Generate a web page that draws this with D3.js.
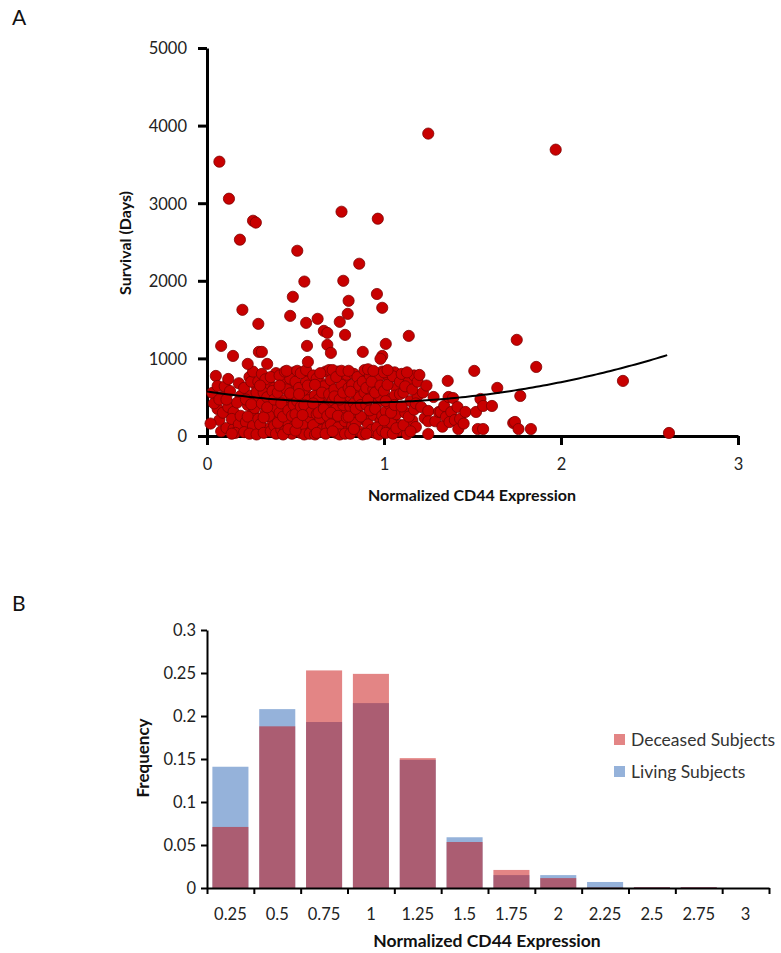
<!DOCTYPE html>
<html>
<head>
<meta charset="utf-8">
<script src="https://cdn.jsdelivr.net/npm/d3@7"></script>
<style>
  body { margin: 0; background: #fff; }
  svg { font-family: Lato, "Open Sans", sans-serif; }
  .tick text { fill: #222; }
</style>
</head>
<body>
<div class="chart"></div>
<script>
// Panel A: [normalized CD44 expression, survival days]
const survivalPoints = [
  // x 0.0 - 0.2
  [0.03,555],[0.05,774],[0.06,645],[0.085,503],[0.06,348],[0.07,206],[0.04,420],[0.09,300],[0.02,160],[0.08,60],[0.1,640],[0.07,470],
  [0.12,735],[0.11,103],[0.15,90],[0.12,374],[0.15,310],[0.19,516],[0.14,220],[0.17,430],[0.13,580],[0.18,150],[0.16,40],[0.19,260],[0.11,470],[0.18,680],[0.14,30],
  // x 0.2 - 0.4
  [0.21,620],[0.23,400],[0.22,180],[0.24,760],[0.25,520],[0.26,300],[0.27,80],[0.28,640],[0.29,450],[0.21,50],[0.23,250],[0.25,700],[0.26,130],[0.27,360],[0.28,560],[0.29,220],[0.22,470],[0.24,30],[0.26,830],[0.28,20],[0.29,700],[0.25,410],
  [0.31,800],[0.32,560],[0.33,300],[0.34,90],[0.35,680],[0.36,440],[0.37,200],[0.38,620],[0.39,350],[0.30,150],[0.31,420],[0.32,40],[0.33,730],[0.34,500],[0.35,260],[0.36,60],[0.37,580],[0.38,130],[0.39,810],[0.30,650],[0.32,240],[0.34,370],[0.36,760],[0.38,470],[0.39,30],
  // x 0.4 - 0.6
  [0.40,560],[0.41,300],[0.42,80],[0.43,720],[0.44,460],[0.45,190],[0.46,640],[0.47,370],[0.48,30],[0.49,820],[0.40,170],[0.41,780],[0.42,420],[0.43,250],[0.44,60],[0.45,600],[0.46,330],[0.47,740],[0.48,500],[0.49,120],[0.41,650],[0.43,20],[0.44,830],[0.46,90],[0.47,550],[0.48,260],[0.49,400],[0.45,840],
  [0.50,700],[0.51,450],[0.52,210],[0.53,40],[0.54,820],[0.55,590],[0.56,330],[0.57,100],[0.58,760],[0.59,500],[0.50,280],[0.51,840],[0.52,620],[0.53,380],[0.54,150],[0.55,20],[0.56,700],[0.57,460],[0.58,240],[0.59,60],[0.50,70],[0.51,170],[0.52,540],[0.53,810],[0.55,400],[0.56,850],[0.57,650],[0.58,30],[0.59,310],[0.54,270],
  // x 0.6 - 0.8
  [0.60,780],[0.61,520],[0.62,280],[0.63,50],[0.64,690],[0.65,430],[0.66,180],[0.67,830],[0.68,600],[0.69,360],[0.60,140],[0.61,20],[0.62,740],[0.63,470],[0.64,230],[0.65,80],[0.66,640],[0.67,390],[0.68,110],[0.69,850],[0.60,420],[0.61,660],[0.62,40],[0.63,300],[0.64,810],[0.65,560],[0.66,350],[0.67,30],[0.68,260],[0.69,540],
  [0.70,720],[0.71,460],[0.72,200],[0.73,40],[0.74,830],[0.75,580],[0.76,320],[0.77,90],[0.78,700],[0.79,440],[0.70,150],[0.71,850],[0.72,600],[0.73,350],[0.74,110],[0.75,20],[0.76,660],[0.77,400],[0.78,190],[0.79,790],[0.70,300],[0.71,60],[0.72,510],[0.73,760],[0.74,260],[0.75,470],[0.76,840],[0.77,560],[0.78,30],[0.79,240],
  // x 0.8 - 1.0
  [0.80,620],[0.81,380],[0.82,130],[0.83,800],[0.84,540],[0.85,290],[0.86,60],[0.87,720],[0.88,460],[0.89,210],[0.80,840],[0.81,30],[0.82,660],[0.83,420],[0.84,170],[0.85,760],[0.86,500],[0.87,250],[0.88,20],[0.89,850],[0.80,250],[0.81,570],[0.83,90],[0.84,350],[0.86,650],[0.87,400],[0.88,700],[0.89,560],
  [0.90,400],[0.91,150],[0.92,780],[0.93,520],[0.94,270],[0.95,40],[0.96,690],[0.97,440],[0.98,190],[0.99,830],[0.90,620],[0.91,860],[0.92,330],[0.93,80],[0.94,600],[0.95,350],[0.96,110],[0.97,760],[0.98,500],[0.99,260],[0.90,30],[0.91,470],[0.93,700],[0.94,840],[0.95,560],[0.97,20],[0.98,650],[0.99,70],
  // x 1.0 - 1.2
  [1.00,580],[1.01,320],[1.02,90],[1.03,740],[1.04,480],[1.05,230],[1.06,820],[1.07,620],[1.08,370],[1.09,140],[1.00,820],[1.01,40],[1.02,660],[1.03,410],[1.04,170],[1.05,770],[1.06,520],[1.07,280],[1.08,65],[1.09,700],[1.00,200],[1.01,450],[1.02,850],[1.04,300],[1.05,30],[1.06,400],[1.07,100],[1.09,540],
  [1.10,800],[1.11,560],[1.12,300],[1.13,26],[1.14,700],[1.15,450],[1.16,200],[1.17,780],[1.18,116],[1.19,520],[1.10,380],[1.11,140],[1.12,640],[1.13,820],[1.14,250],[1.15,60],[1.16,600],[1.17,340],[1.19,700],[1.18,420],
  // x 1.2 and beyond
  [1.20,787],[1.21,374],[1.22,560],[1.23,230],[1.25,323],[1.25,190],[1.25,26],[1.28,503],[1.29,190],[1.24,650],
  [1.31,310],[1.32,310],[1.34,387],[1.35,245],[1.365,503],[1.38,310],[1.39,490],[1.36,710],[1.33,120],[1.37,180],
  [1.40,206],[1.415,374],[1.42,90],[1.43,220],[1.46,310],[1.45,160],
  [1.51,839],[1.52,310],[1.53,90],[1.545,477],[1.56,387],[1.56,90],[1.61,387],[1.64,620],
  [1.73,168],[1.74,181],[1.75,1239],[1.76,90],[1.77,516],[1.83,90],[1.86,890],[1.97,3690],[2.35,710],[2.61,39],
  // long survivors
  [0.07,3535],[0.124,3058],[0.26,2774],[0.276,2750],[0.186,2530],[0.51,2387],[0.76,2890],[0.965,2800],[1.25,3897],[0.86,2220],
  [0.55,1990],[0.77,2000],[0.96,1830],[0.485,1794],[0.80,1742],[0.2,1626],[0.99,1652],[0.795,1574],[0.47,1548],[0.29,1445],
  [0.56,1458],[0.625,1510],[0.75,1471],[0.66,1355],[0.68,1329],[0.78,1303],[1.14,1290],[0.08,1161],[0.565,1161],[0.68,1174],
  [1.01,1187],[0.147,1032],[0.293,1084],[0.31,1084],[0.70,1071],[0.88,1084],[0.99,1032],[0.98,994],[0.57,955],[0.23,929],[0.34,929]
];
// quadratic trendline: c0 + c1*x + c2*x^2, drawn over the fitted range
const trendCoef = [574, -340, 200];
const trendRange = [0, 2.61];
const xTicksA = [0, 1, 2, 3];
const yTicksA = [0, 1000, 2000, 3000, 4000, 5000];

// Panel B: histogram
const bins = ["0.25","0.5","0.75","1","1.25","1.5","1.75","2","2.25","2.5","2.75","3"];
const deceased = [0.071, 0.188, 0.253, 0.249, 0.151, 0.0535, 0.021, 0.0115, 0.0005, 0.001, 0.001, 0];
const living   = [0.141, 0.208, 0.193, 0.215, 0.149, 0.059, 0.015, 0.015, 0.007, 0.001, 0.001, 0];
const seriesNames = ["Deceased Subjects", "Living Subjects"];
const yTicksB = [0, 0.05, 0.1, 0.15, 0.2, 0.25, 0.3];

const svgWidth = 781;
const svgHeight = 953;
const svg = d3.select(".chart").append("svg")
  .attr("width", svgWidth).attr("height", svgHeight);

const styleAxis = (g, w) => {
  g.attr("font-family", null);
  g.select(".domain").attr("stroke", "#000").attr("stroke-width", w);
  g.selectAll(".tick line").attr("stroke", "#000").attr("stroke-width", w);
};

// ---------- Panel A ----------
svg.append("text").text("A").attr("x", 12).attr("y", 25)
  .attr("font-size", 21).attr("fill", "#111");

const xA = d3.scaleLinear().domain([0, 3]).range([207, 738]);
const yA = d3.scaleLinear().domain([0, 5000]).range([436, 48]);

const yAxisA = svg.append("g")
  .attr("transform", `translate(${xA(0)},0)`)
  .call(d3.axisLeft(yA).tickValues(yTicksA).tickFormat(d3.format("d"))
    .tickSize(9).tickSizeOuter(0).tickPadding(11))
  .call((g) => styleAxis(g, 3));
yAxisA.selectAll("text").attr("font-size", 16.5).attr("dy", "0.36em");

const xAxisA = svg.append("g")
  .attr("transform", `translate(0,${yA(0)})`)
  .call(d3.axisBottom(xA).tickValues(xTicksA).tickFormat(d3.format("d"))
    .tickSize(9).tickSizeOuter(0).tickPadding(13))
  .call((g) => styleAxis(g, 3));
xAxisA.selectAll("text").attr("font-size", 16.5);

svg.append("g").selectAll("circle")
  .data(survivalPoints)
  .enter()
  .append("circle")
  .attr("cx", (d) => xA(d[0]))
  .attr("cy", (d) => yA(d[1]))
  .attr("r", 5.6)
  .attr("fill", "#c80000")
  .attr("stroke", "#7e0000")
  .attr("stroke-width", 0.8);

const trendX = d3.range(trendRange[0], trendRange[1] + 0.001, 0.02);
const trendLine = d3.line()
  .x((x) => xA(x))
  .y((x) => yA(trendCoef[0] + trendCoef[1] * x + trendCoef[2] * x * x));
svg.append("path")
  .attr("d", trendLine(trendX))
  .attr("fill", "none").attr("stroke", "#000").attr("stroke-width", 2);

svg.append("text").text("Normalized CD44 Expression")
  .attr("x", 472).attr("y", 501).attr("text-anchor", "middle")
  .attr("font-size", 16).attr("font-weight", "bold").attr("fill", "#111");
svg.append("text").text("Survival (Days)")
  .attr("transform", "translate(131,243) rotate(-90)").attr("text-anchor", "middle")
  .attr("font-size", 16).attr("font-weight", "bold").attr("fill", "#111");

// ---------- Panel B ----------
svg.append("text").text("B").attr("x", 12).attr("y", 611)
  .attr("font-size", 21).attr("fill", "#111");

const xB = d3.scaleBand().domain(bins).range([207, 769])
  .paddingInner(0.23).paddingOuter(0.115);
const xEdges = d3.scaleLinear().domain([0, bins.length]).range([207, 769]);
const yB = d3.scaleLinear().domain([0, 0.3]).range([888, 630]);

const blue = "rgb(149,178,218)";
const red = "rgb(196,0,0)";
const redOpacity = 0.48;

svg.append("g").selectAll("rect")
  .data(living)
  .enter()
  .append("rect")
  .attr("x", (d, i) => xB(bins[i]))
  .attr("y", (d) => yB(d))
  .attr("width", xB.bandwidth())
  .attr("height", (d) => yB(0) - yB(d))
  .attr("fill", blue);

svg.append("g").selectAll("rect")
  .data(deceased)
  .enter()
  .append("rect")
  .attr("x", (d, i) => xB(bins[i]))
  .attr("y", (d) => yB(d))
  .attr("width", xB.bandwidth())
  .attr("height", (d) => yB(0) - yB(d))
  .attr("fill", red)
  .attr("fill-opacity", redOpacity);

const yAxisB = svg.append("g")
  .attr("transform", `translate(207,0)`)
  .call(d3.axisLeft(yB).tickValues(yTicksB).tickSize(6).tickSizeOuter(0).tickPadding(5)
    .tickFormat((d) => String(+d.toFixed(2))))
  .call((g) => styleAxis(g, 2));
yAxisB.selectAll("text").attr("font-size", 16.5);

svg.append("g")
  .attr("transform", `translate(0,${yB(0)})`)
  .call(d3.axisBottom(xEdges).tickValues(d3.range(bins.length + 1)).tickSize(6)
    .tickSizeOuter(0).tickFormat(""))
  .call((g) => styleAxis(g, 2));

const xAxisB = svg.append("g")
  .attr("transform", `translate(0,${yB(0)})`)
  .call(d3.axisBottom(xB).tickSize(0).tickPadding(20));
xAxisB.attr("font-family", null);
xAxisB.select(".domain").remove();
xAxisB.selectAll("text").attr("font-size", 16.5);

svg.append("text").text("Normalized CD44 Expression")
  .attr("x", 487).attr("y", 947).attr("text-anchor", "middle")
  .attr("font-size", 17.5).attr("font-weight", "bold").attr("fill", "#111");
svg.append("text").text("Frequency")
  .attr("transform", "translate(149,758) rotate(-90)").attr("text-anchor", "middle")
  .attr("font-size", 17).attr("font-weight", "bold").attr("fill", "#111");

// legend
const legend = svg.append("g").attr("transform", "translate(614,734)");
seriesNames.forEach((name, i) => {
  const row = legend.append("g").attr("transform", `translate(0,${i * 32})`);
  row.append("rect").attr("width", 11).attr("height", 11)
    .attr("fill", i === 0 ? red : blue)
    .attr("fill-opacity", i === 0 ? redOpacity : 1);
  row.append("text").text(name).attr("x", 17).attr("y", 11.5)
    .attr("font-size", 17.5).attr("fill", "#333");
});
</script>
</body>
</html>
